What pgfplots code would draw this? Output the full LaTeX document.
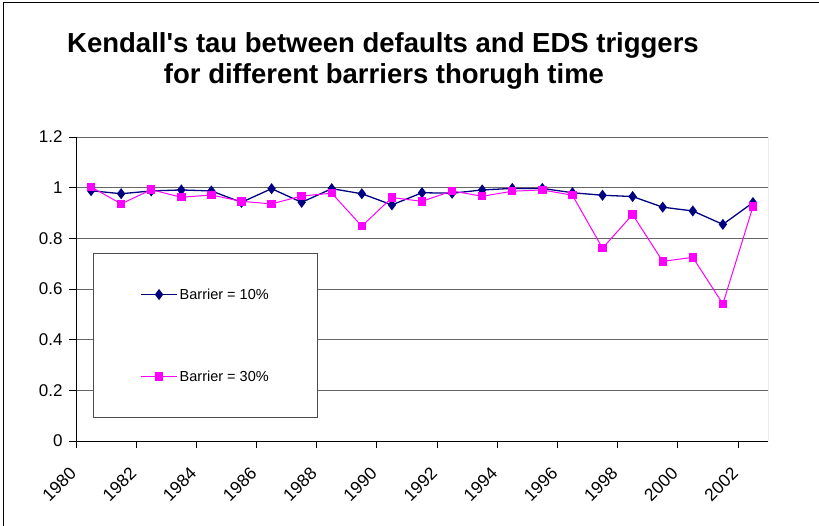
\documentclass[border=0pt]{standalone}
\usepackage{fontspec}
\setmainfont{Liberation Sans}
\newfontfamily\titlefont{Liberation Sans}
\usepackage{pgfplots}
\pgfplotsset{compat=1.18}
\definecolor{navyc}{HTML}{000080}
\definecolor{magc}{HTML}{FF00FF}
\begin{document}
\begin{tikzpicture}[x=1pt,y=1pt]
\begin{axis}[
  at={(76pt,85pt)}, anchor=south west,
  scale only axis, width=692pt, height=304pt,
  xmin=1979.5, xmax=2002.5, ymin=0, ymax=1.2,
  ytick={0,0.2,...,1.2},
  xtick={1980,1982,...,2002},
  minor xtick={1979.5,1981.5,...,2001.5},
  xticklabels={1980,1982,1984,1986,1988,1990,1992,1994,1996,1998,2000,2002},
  axis x line*=bottom, axis y line*=left,
  axis line style={-, black, line width=0.8pt},
  tick align=outside,
  major tick length=7pt, minor tick length=7pt,
  x tick style={draw=none}, minor x tick style={draw=black, line width=0.8pt},
  y tick style={black, line width=0.8pt},
  ymajorgrids, major grid style={black!60, line width=0.8pt},
  /pgf/number format/assume math mode=true,
  yticklabel={\pgfmathprintnumber[fixed,precision=1]{\tick}},
  ticklabel style={font=\fontsize{17}{17}\selectfont},
  yticklabel style={xshift=-3pt},
  xticklabel style={font=\fontsize{17.5}{17.5}\selectfont, rotate=45, anchor=east, xshift=-25pt, yshift=-3pt},
  legend style={at={(0.0246,0.618)}, anchor=north west, draw=black!70, line width=0.8pt,
    inner xsep=47pt, inner ysep=33pt, row sep=66pt,
    font=\fontsize{14.5}{14.5}\selectfont, legend cell align=left},
  legend image code/.code={\draw[mark repeat=2,mark phase=2,#1] plot coordinates {(0pt,0pt) (18pt,0pt) (36pt,0pt)};},
]
\addplot[navyc, line width=1.3pt, mark=diamond*, mark size=4.5pt, mark options={solid, fill=navyc}] coordinates {
(1980,0.988) (1981,0.976) (1982,0.987) (1983,0.991) (1984,0.987) (1985,0.942)
(1986,0.996) (1987,0.942) (1988,0.996) (1989,0.976) (1990,0.932) (1991,0.980)
(1992,0.978) (1993,0.991) (1994,0.997) (1995,0.997) (1996,0.980) (1997,0.970)
(1998,0.965) (1999,0.923) (2000,0.908) (2001,0.855) (2002,0.941)};
\addlegendentry{Barrier = 10\%}
\addplot[magc, line width=1pt, mark=square*, mark size=3.7pt, mark options={solid, fill=magc}] coordinates {
(1980,1.003) (1981,0.936) (1982,0.992) (1983,0.962) (1984,0.971) (1985,0.946)
(1986,0.936) (1987,0.967) (1988,0.978) (1989,0.848) (1990,0.961) (1991,0.946)
(1992,0.987) (1993,0.966) (1994,0.986) (1995,0.991) (1996,0.970) (1997,0.761)
(1998,0.894) (1999,0.709) (2000,0.725) (2001,0.541) (2002,0.925)};
\addlegendentry{Barrier = 30\%}
\draw[black!60, line width=0.8pt] (rel axis cs:1,0) -- (rel axis cs:1,1);
\end{axis}
\node[font=\titlefont\fontsize{27.5}{30}\selectfont\bfseries] at (383pt,481pt) {Kendall's tau between defaults and EDS triggers};
\node[font=\titlefont\fontsize{27.5}{30}\selectfont\bfseries] at (384pt,450pt) {for different barriers thorugh time};
\draw[black, line width=0.8pt] (3pt,0pt) -- (3pt,524pt) -- (819pt,524pt);
\pgfresetboundingbox
\path[use as bounding box] (0pt,0pt) rectangle (819pt,526pt);
\end{tikzpicture}
\end{document}
